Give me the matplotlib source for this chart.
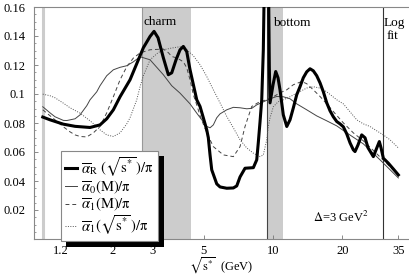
import numpy as np
import matplotlib
matplotlib.use('Agg')
import matplotlib.pyplot as plt
from matplotlib.patches import Rectangle
from matplotlib.ticker import MultipleLocator, NullLocator

# FONTS: Times-like serif text and STIX maths
plt.rcParams['font.family'] = 'serif'
plt.rcParams['font.serif'] = ['Liberation Serif', 'DejaVu Serif']
plt.rcParams['mathtext.fontset'] = 'stix'

# DATA (sqrt(s*) in GeV)
x_R = [1.00, 1.075, 1.228, 1.381, 1.604, 1.772, 1.895, 2.025, 2.165, 2.392,
       2.558, 2.733, 2.922, 3.041, 3.165, 3.337, 3.508, 3.629, 3.789, 3.943,
       4.075, 4.216, 4.358, 4.660, 4.816, 4.977, 5.149, 5.232, 5.322, 5.413,
       5.691, 5.882, 6.289, 6.718, 6.950, 7.183, 7.551, 8.205, 8.488, 8.620,
       8.772, 8.922, 9.066, 9.20, 9.30, 9.42, 9.52, 9.626, 9.695, 9.99,
       10.26, 10.50, 10.71, 11.07, 11.46, 11.84, 12.24, 12.66, 13.08, 13.52,
       13.99, 14.46, 14.94, 15.46, 15.98, 16.52, 17.09, 17.66, 18.25, 18.89,
       19.52, 20.17, 20.87, 21.57, 22.29, 22.67, 23.36, 24.24, 25.06, 25.82,
       27.23, 27.97, 28.91, 29.40, 30.09, 31.63, 33.25, 34.96]
alpha_R = [0.0841, 0.0822, 0.0792, 0.0777, 0.0769, 0.0787, 0.0829, 0.0891, 0.0981, 0.1098,
           0.1209, 0.1319, 0.1397, 0.1432, 0.1388, 0.1250, 0.1133, 0.1146, 0.1236, 0.1305,
           0.1328, 0.1292, 0.1167, 0.0960, 0.0914, 0.0836, 0.0753, 0.0698, 0.0580, 0.0477,
           0.0380, 0.0359, 0.0350, 0.0352, 0.0366, 0.0428, 0.0488, 0.0492, 0.0546, 0.0663,
           0.0808, 0.0960, 0.1305, 0.20, 0.30, 0.30, 0.20, 0.1188, 0.0939, 0.1064,
           0.1155, 0.1112, 0.1029, 0.0856, 0.0776, 0.0822, 0.0905, 0.0995, 0.1050, 0.1112,
           0.1153, 0.1174, 0.1160, 0.1126, 0.1077, 0.1015, 0.0939, 0.0884, 0.0843, 0.0810,
           0.0794, 0.0774, 0.0725, 0.0663, 0.0615, 0.0603, 0.0649, 0.0718, 0.0698, 0.0629,
           0.0568, 0.0615, 0.0672, 0.0629, 0.0557, 0.0523, 0.0483, 0.0442]

x_0M = [1.00, 1.075, 1.130, 1.228, 1.271, 1.381, 1.451, 1.552, 1.604, 1.715,
        1.772, 1.895, 2.025, 2.165, 2.315, 2.473, 2.644, 2.922, 3.337, 3.629,
        3.943, 4.358, 4.660, 4.977, 5.149, 5.322, 5.501, 5.691, 5.882, 6.289,
        6.718, 7.183, 7.681, 8.074, 8.488, 9.066, 9.695, 10.37, 11.07, 11.84,
        12.66, 13.99, 15.46, 17.09, 18.89, 20.87, 24.64, 29.11, 34.96]
alpha_0M = [0.0912, 0.0870, 0.0843, 0.0818, 0.0817, 0.0829, 0.0856, 0.0919, 0.0960, 0.1015,
            0.1057, 0.1126, 0.1167, 0.1184, 0.1195, 0.1222, 0.1257, 0.1236, 0.1133, 0.1057,
            0.1006, 0.0932, 0.0868, 0.0808, 0.0776, 0.0767, 0.0787, 0.0836, 0.0863, 0.0891,
            0.0908, 0.0905, 0.0898, 0.0901, 0.0925, 0.0946, 0.0967, 0.0983, 0.0981, 0.0967,
            0.0932, 0.0891, 0.0849, 0.0815, 0.0780, 0.0732, 0.0656, 0.0546, 0.0421]

x_1M = [1.00, 1.075, 1.130, 1.228, 1.313, 1.381, 1.451, 1.552, 1.658, 1.772,
        1.895, 2.025, 2.165, 2.315, 2.473, 2.644, 2.922, 3.337, 3.508, 3.629,
        3.789, 3.943, 4.075, 4.216, 4.358, 4.504, 4.660, 4.816, 5.149, 5.501,
        6.079, 6.718, 7.183, 7.551, 8.074, 8.772, 9.38, 10.02, 10.71, 11.46,
        12.24, 13.31, 13.99, 14.94, 15.98, 17.09, 18.25, 20.17, 22.29, 24.64,
        29.11, 34.96]
alpha_1M = [0.0891, 0.0850, 0.0822, 0.0774, 0.0739, 0.0718, 0.0707, 0.0704, 0.0732, 0.0776,
            0.0870, 0.0981, 0.1098, 0.1188, 0.1248, 0.1283, 0.1305, 0.1310, 0.1285, 0.1259,
            0.1250, 0.1236, 0.1222, 0.1181, 0.1098, 0.0995, 0.0925, 0.0850, 0.0732, 0.0637,
            0.0580, 0.0568, 0.0637, 0.0776, 0.0914, 0.0948, 0.0960, 0.0981, 0.1008, 0.1029,
            0.1064, 0.1086, 0.1071, 0.1029, 0.0983, 0.0932, 0.0879, 0.0801, 0.0732, 0.0677,
            0.0566, 0.0442]

x_1s = [1.00, 1.075, 1.130, 1.228, 1.313, 1.451, 1.604, 1.715, 1.772, 1.895,
        2.025, 2.165, 2.315, 2.392, 2.558, 2.644, 2.733, 2.922, 3.165, 3.337,
        3.629, 3.943, 4.216, 4.504, 4.816, 5.149, 5.501, 5.882, 6.289, 6.718,
        7.183, 7.681, 8.205, 8.772, 9.066, 9.38, 9.531, 9.695, 10.02, 10.50,
        11.07, 11.84, 12.66, 13.99, 14.94, 15.98, 17.09, 18.89, 20.17, 21.57,
        23.06, 24.64, 26.34, 28.16, 30.09, 32.17, 34.96]
alpha_1s = [0.0999, 0.0988, 0.0974, 0.0937, 0.0905, 0.0868, 0.0815, 0.0776, 0.0753, 0.0718,
            0.0707, 0.0732, 0.0794, 0.0836, 0.0960, 0.1050, 0.1126, 0.1236, 0.1285, 0.1305,
            0.1317, 0.1326, 0.1305, 0.1264, 0.1202, 0.1121, 0.1029, 0.0939, 0.0845, 0.0767,
            0.0684, 0.0628, 0.0592, 0.0568, 0.0580, 0.0684, 0.0774, 0.0836, 0.0912, 0.0946,
            0.0960, 0.0981, 0.1006, 0.1041, 0.1050, 0.1041, 0.1015, 0.0960, 0.0932, 0.0877,
            0.0822, 0.0794, 0.0776, 0.0746, 0.0718, 0.0684, 0.0628]

charm_band = [2.7, 4.4]
bottom_band = [9.4, 11.0]
logfit_x = 30.1
threshold_x = 1.0

xtick_vals = [1.2, 2, 3, 5, 10, 20, 35]
xtick_labels = ['1.2', '2', '3', '5', '10', '20', '35']
ytick_vals = [0.02, 0.04, 0.06, 0.08, 0.1, 0.12, 0.14, 0.16]
ytick_labels = ['0.02', '0.04', '0.06', '0.08', '0.1', '0.12', '0.14', '0.16']

labels = [r'$\overline{\alpha}_{\rm R}\ (\sqrt{\rm s^{*}}\,)/\pi$',
          r'$\overline{\alpha}_0(\rm M)/\pi$',
          r'$\overline{\alpha}_1(\rm M)/\pi$',
          r'$\overline{\alpha}_1(\sqrt{\rm s^{*}}\,)/\pi$']

# FIGURE
fig = plt.figure(figsize=(4.09, 2.75), dpi=100)
ax = fig.add_axes([34 / 409, 36 / 275, 374 / 409, 232 / 275])

# shaded thresholds and marker lines
ax.axvspan(charm_band[0], charm_band[1], color='#cccccc', lw=0, zorder=0)
ax.axvspan(bottom_band[0], bottom_band[1], color='#cccccc', lw=0, zorder=0)
ax.axvline(charm_band[0], color='#999999', lw=0.8, zorder=0.5)
ax.axvline(bottom_band[0], color='#444444', lw=0.8, zorder=0.5)
ax.axvline(threshold_x, color='#cccccc', lw=2.2, zorder=0.5)
ax.axvline(logfit_x, color='#333333', lw=0.8, zorder=0.5)

# curves
ax.plot(x_R, alpha_R, color='black', lw=2.2, label=labels[0], zorder=4)
ax.plot(x_0M, alpha_0M, color='#444444', lw=0.7, label=labels[1], zorder=3)
ax.plot(x_1M, alpha_1M, color='#444444', lw=0.7, ls=(0, (4, 3)), label=labels[2], zorder=3)
ax.plot(x_1s, alpha_1s, color='#555555', lw=0.7, ls=(0, (1, 1.5)), label=labels[3], zorder=3)

# axes
ax.set_xscale('log')
ax.set_xlim(0.916, 38.5)
ax.set_ylim(0, 0.16)
ax.set_xticks(xtick_vals)
ax.set_xticklabels(xtick_labels)
ax.xaxis.set_minor_locator(NullLocator())
ax.set_yticks(ytick_vals)
ax.set_yticklabels(ytick_labels)
ax.yaxis.set_minor_locator(MultipleLocator(0.005))
ax.tick_params(which='both', direction='in', colors='#777777', labelcolor='black', labelsize=9)
ax.tick_params(which='major', length=3, width=0.6, pad=4)
ax.tick_params(which='minor', length=1.5, width=0.5)
ax.tick_params(axis='y', which='major', pad=6)
ax.spines['right'].set_visible(False)
for s in ['left', 'top', 'bottom']:
    ax.spines[s].set_color('#888888')
    ax.spines[s].set_linewidth(0.8)

ax.set_xlabel(r'$\sqrt{\rm s^{*}}$  (GeV)', fontsize=9, labelpad=-0.5)

# annotations
ax.text(2.724, 0.1478, 'charm', fontsize=9.5, va='baseline', ha='left')
ax.text(9.96, 0.1471, 'bottom', fontsize=9.5, va='baseline', ha='left')
ax.text(33.65, 0.1471, 'Log', fontsize=9.5, va='baseline', ha='center')
ax.text(32.98, 0.1379, 'fit', fontsize=9.5, va='baseline', ha='center')
ax.text(14.94, 0.0120, r'$\Delta$=3 GeV$^2$', fontsize=9, va='baseline', ha='left')

# legend with a solid black drop shadow
leg = ax.legend(loc='upper left', bbox_to_anchor=(0.071, 0.381), borderaxespad=0,
                fancybox=False, edgecolor='#888888', framealpha=1, fontsize=10.5,
                handlelength=0.85, handletextpad=0.25, labelspacing=0.0, borderpad=0.3)
leg.get_frame().set_linewidth(0.8)
leg.set_zorder(10)

fig.canvas.draw()
bb = leg.get_window_extent().transformed(ax.transAxes.inverted())
dx = 5.5 / 374
dy = 5.5 / 232
ax.add_patch(Rectangle((bb.x0 + dx, bb.y0 - dy), bb.width, bb.height, transform=ax.transAxes,
                       facecolor='black', edgecolor='none', zorder=9, clip_on=False))

fig.savefig('out.png', dpi=100)
